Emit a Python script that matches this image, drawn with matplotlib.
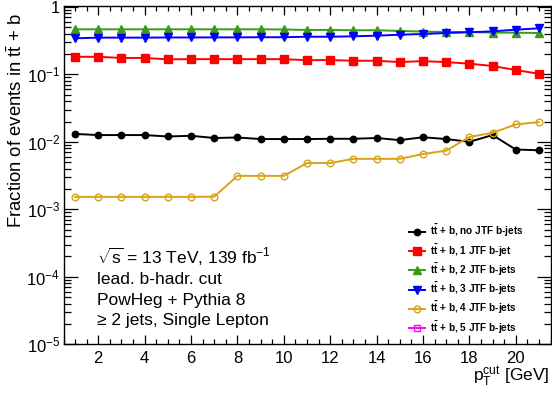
import numpy as np
import matplotlib
matplotlib.use("Agg")
import matplotlib.pyplot as plt
from matplotlib.ticker import MultipleLocator, LogLocator, FuncFormatter, NullFormatter

plt.rcParams['font.family'] = ['Liberation Sans', 'DejaVu Sans']
plt.rcParams['mathtext.fontset'] = 'custom'
plt.rcParams['mathtext.rm'] = 'Liberation Sans'
plt.rcParams['mathtext.it'] = 'Liberation Sans:italic'
plt.rcParams['mathtext.bf'] = 'Liberation Sans:bold'

# progi pT (GeV)
pt_cut = np.arange(1, 22)

# frakcje zdarzen tt+b wg liczby b-jetow z JTF
frac_0jtf = [0.0131, 0.0126, 0.0126, 0.0126, 0.0120, 0.0123, 0.0114, 0.0116, 0.0110, 0.0110,
             0.0110, 0.0111, 0.0111, 0.0114, 0.0106, 0.0117, 0.0110, 0.0100, 0.0126, 0.0077, 0.0075]
frac_1jtf = [0.182, 0.182, 0.175, 0.175, 0.167, 0.168, 0.168, 0.168, 0.168, 0.168,
             0.162, 0.163, 0.159, 0.159, 0.152, 0.157, 0.152, 0.144, 0.133, 0.116, 0.102]
frac_2jtf = [0.465, 0.465, 0.465, 0.465, 0.465, 0.465, 0.465, 0.465, 0.465, 0.462,
             0.455, 0.455, 0.450, 0.450, 0.440, 0.430, 0.425, 0.425, 0.415, 0.415, 0.410]
frac_3jtf = [0.342, 0.350, 0.350, 0.350, 0.352, 0.352, 0.353, 0.353, 0.355, 0.355,
             0.361, 0.361, 0.366, 0.374, 0.387, 0.396, 0.410, 0.420, 0.434, 0.459, 0.481]
frac_4jtf = [0.00153, 0.00153, 0.00153, 0.00153, 0.00153, 0.00153, 0.00154, 0.00313, 0.00313, 0.00313,
             0.00485, 0.00485, 0.0056, 0.0056, 0.0056, 0.0066, 0.0074, 0.0118, 0.0136, 0.0181, 0.0196]
frac_5jtf = [0.0] * 21

labels = [r'$\mathbf{t\bar{t}}$ + b, no JTF b-jets',
          r'$\mathbf{t\bar{t}}$ + b, 1 JTF b-jet',
          r'$\mathbf{t\bar{t}}$ + b, 2 JTF b-jets',
          r'$\mathbf{t\bar{t}}$ + b, 3 JTF b-jets',
          r'$\mathbf{t\bar{t}}$ + b, 4 JTF b-jets',
          r'$\mathbf{t\bar{t}}$ + b, 5 JTF b-jets']

# styl kazdej serii: kolor, marker, rozmiar, wypelnienie
styles = [
    ('black', 'o', 4.6, True),
    ('#ff0000', 's', 5.2, True),
    ('#3a9a14', '^', 5.4, True),
    ('#0000ff', 'v', 5.4, True),
    ('#d9a21b', 'o', 4.8, False),
    ('#ff00ff', 's', 4.8, False),
]
series = [frac_0jtf, frac_1jtf, frac_2jtf, frac_3jtf, frac_4jtf, frac_5jtf]

fig = plt.figure(figsize=(5.52, 3.97), dpi=100)
W, H = 552.0, 397.0
ax = fig.add_axes([63.5 / W, (H - 344.3) / H, (550.5 - 63.5) / W, (344.3 - 6) / H])
ax.set_yscale('log', nonpositive='mask')

for y, lab, (col, mk, ms, filled) in zip(series, labels, styles):
    y = np.ma.masked_less_equal(np.array(y), 0)
    ax.plot(pt_cut, y, color=col, lw=1.4, marker=mk, ms=ms,
            markerfacecolor=col if filled else 'none', markeredgecolor=col,
            markeredgewidth=1.0, label=lab)

ax.set_xlim(0.5, 21.5)
ax.set_ylim(1e-5, 1.03)

# osie w stylu ROOT: ticki do srodka na wszystkich krawedziach
ax.xaxis.set_major_locator(MultipleLocator(2))
ax.xaxis.set_minor_locator(MultipleLocator(0.5))
ax.yaxis.set_major_locator(LogLocator(base=10, numticks=10))
ax.yaxis.set_minor_locator(LogLocator(base=10, subs=np.arange(2, 10), numticks=20))
ax.yaxis.set_minor_formatter(NullFormatter())


def fmt_log(v, pos):
    e = int(round(np.log10(v)))
    return '1' if e == 0 else r'$10^{%d}$' % e


ax.yaxis.set_major_formatter(FuncFormatter(fmt_log))
ax.tick_params(which='both', direction='in', top=True, right=True, labelsize=12, width=0.9)
ax.tick_params(axis='x', which='major', length=6.5, pad=4.5)
ax.tick_params(axis='x', which='minor', length=3.3)
ax.tick_params(axis='y', which='major', length=10, pad=2.5)
ax.tick_params(axis='y', which='minor', length=5)
for s in ax.spines.values():
    s.set_linewidth(1.0)

fig.text(16 / W, 1 - 121 / H, r'Fraction of events in $\mathrm{t\bar{t}}$ + b',
         rotation=90, ha='center', va='center', fontsize=13.3)
fig.text(550 / W, 1 - 382 / H, r'$\mathrm{p}_{\mathrm{T}}^{\mathrm{cut}}$ [GeV]',
         ha='right', va='baseline', fontsize=12.5)

# opis probki
info = [r'$\sqrt{\mathrm{s}}$ = 13 TeV, 139 fb$^{-1}$',
        'lead. b-hadr. cut',
        'PowHeg + Pythia 8',
        u'\u2265 2 jets, Single Lepton']
for i, t in enumerate(info):
    fig.text(96.7 / W, 1 - (264 + 20.3 * i) / H, t, ha='left', va='baseline', fontsize=12.5)

ax.legend(loc='upper left', bbox_to_anchor=(409 / W, 1 - 223 / H), bbox_transform=fig.transFigure,
          frameon=False, borderpad=0, borderaxespad=0, handlelength=1.6, handletextpad=0.45,
          labelspacing=0.3, prop={'size': 7.2, 'weight': 'bold'})

fig.savefig('out.png', dpi=100)
plt.close(fig)
